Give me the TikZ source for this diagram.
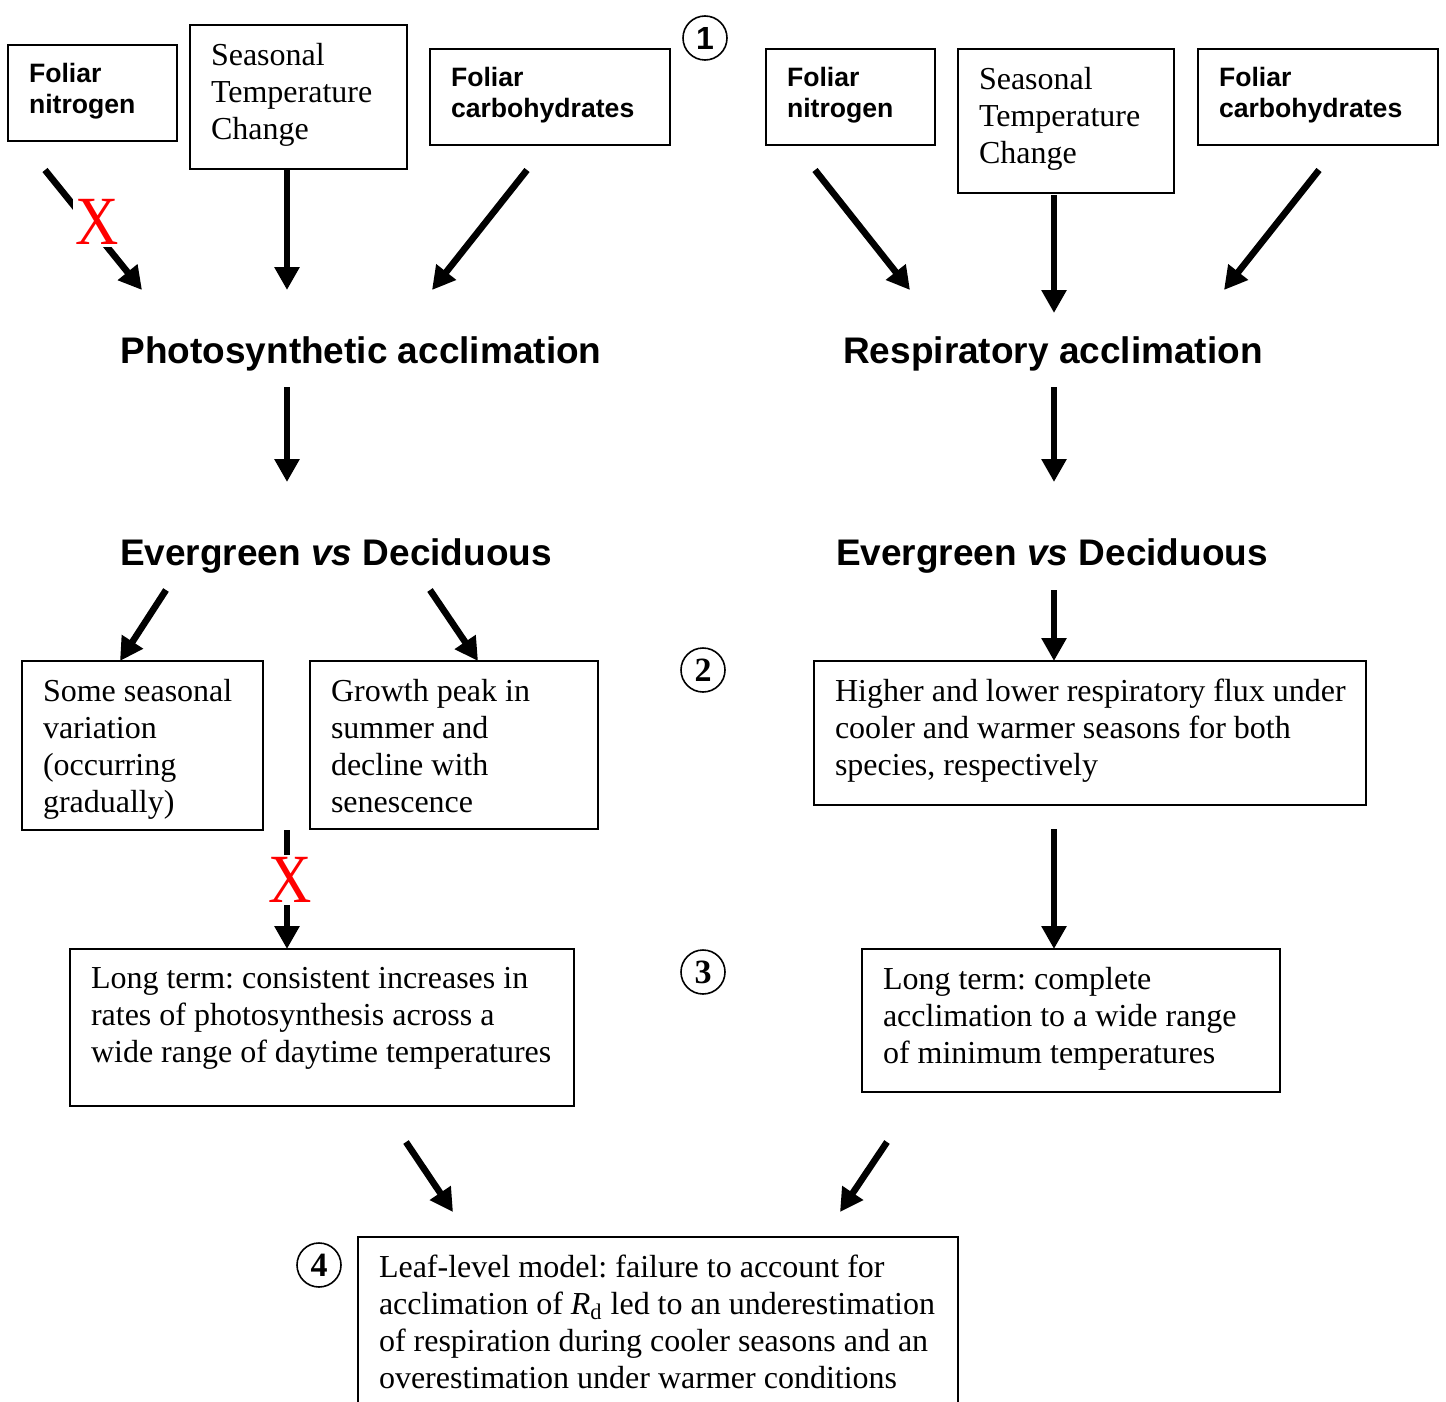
\documentclass[tikz,border=0pt]{standalone}
\usepackage{fontspec}
\usepackage{graphicx}
\setmainfont{Liberation Serif}
\setsansfont{Liberation Sans}
\usetikzlibrary{arrows.meta}
\frenchspacing
\newdimen\upx \upx=0.5pt % one pixel of the picture
\newcommand{\boxtext}[3]{\parbox[c][\dimexpr#2\upx-36\upx\relax][t]{\dimexpr#1\upx-42\upx\relax}{\rightskip=0pt minus 20pt #3}}
\begin{document}
\begin{tikzpicture}[x=0.5pt,y=-0.5pt] % coordinates in pixels, y downwards
\tikzstyle{box} = [draw, line width=1pt, anchor=north west, inner xsep=10.5pt, inner ysep=9pt, outer sep=0pt, font=\fontsize{16}{18.5}\selectfont] % serif text box
\tikzstyle{sansbox} = [box, font=\sffamily\bfseries\fontsize{13.3}{15.5}\selectfont] % bold sans box
\tikzstyle{heading} = [anchor=base, inner sep=0pt, font=\sffamily\bfseries\fontsize{18.5}{22}\selectfont]
\tikzstyle{num} = [circle, draw, line width=0.8pt, minimum size=22pt, inner sep=0pt, font=\bfseries\fontsize{17}{17}\selectfont] % step numbers
\tikzstyle{cross} = [text=red, fill=white, inner sep=1pt, font=\fontsize{30}{30}\selectfont]
\tikzstyle{arrow} = [line width=3.3pt, -{Triangle[length=11.5pt, width=12pt]}]
\useasboundingbox (0,0) rectangle (1446,1402);

% top row
\node[sansbox] (fn1) at (8,45) {\boxtext{169}{96}{Foliar\\nitrogen}};
\node[box] (stc1) at (190,25) {\boxtext{217}{144}{Seasonal\\Temperature\\Change}};
\node[sansbox] (fc1) at (430,49) {\boxtext{240}{96}{Foliar\\carbohydrates}};
\node[sansbox] (fn2) at (766,49) {\boxtext{169}{96}{Foliar\\nitrogen}};
\node[box] (stc2) at (958,49) {\boxtext{216}{144}{Seasonal\\Temperature\\Change}};
\node[sansbox] (fc2) at (1198,49) {\boxtext{240}{96}{Foliar\\carbohydrates}};

% headings
\node[heading] (photo) at (361,363) {Photosynthetic acclimation};
\node[heading] (resp) at (1053,363) {Respiratory acclimation};
\node[heading] (evg1) at (336,565) {Evergreen \textit{vs} Deciduous};
\node[heading] (evg2) at (1052,565) {Evergreen \textit{vs} Deciduous};

% second and third rows
\node[box] (some) at (22,661) {\boxtext{241}{169}{Some seasonal\\variation\\(occurring\\gradually)}};
\node[box] (growth) at (310,661) {\boxtext{288}{168}{Growth peak in\\summer and\\decline with\\senescence}};
\node[box] (higher) at (814,661) {\boxtext{552}{144}{Higher and lower respiratory flux under\\cooler and warmer seasons for both\\species, respectively}};
\node[box] (long1) at (70,949) {\boxtext{504}{157}{Long term: consistent increases in\\rates of photosynthesis across a\\wide range of daytime temperatures}};
\node[box] (long2) at (862,949) {\boxtext{418}{143}{Long term: complete\\acclimation to a wide range\\of minimum temperatures}};
\node[box] (leaf) at (358,1237) {\boxtext{600}{200}{Leaf-level model: failure to account for\\acclimation of \textit{R}\textsubscript{d} led to an underestimation\\of respiration during cooler seasons and an\\overestimation under warmer conditions}};

% numbers
\node[num, font=\sffamily\bfseries\fontsize{16}{16}\selectfont] (c1) at (705,38) {1};
\node[num] (c2) at (703,670) {2};
\node[num] (c3) at (703,972) {3};
\node[num] (c4) at (319,1265) {4};

% arrows
\draw[arrow] ([shift={(37,29)}]fn1.south west) -- ([shift={(-219,-73)}]photo.base);
\draw[arrow] ([shift={(97,1)}]stc1.south west) -- ([shift={(-74,-73)}]photo.base);
\draw[arrow] ([shift={(97,25)}]fc1.south west) -- ([shift={(71,-73)}]photo.base);
\draw[arrow] ([shift={(49,25)}]fn2.south west) -- ([shift={(-143,-73)}]resp.base);
\draw[arrow] ([shift={(96,2)}]stc2.south west) -- ([shift={(1,-50)}]resp.base);
\draw[arrow] ([shift={(121,25)}]fc2.south west) -- ([shift={(171,-73)}]resp.base);
\draw[arrow] ([shift={(-74,24)}]photo.base) -- ([shift={(-49,-83)}]evg1.base);
\draw[arrow] ([shift={(1,24)}]resp.base) -- ([shift={(2,-83)}]evg2.base);
\draw[arrow] ([shift={(-170,25)}]evg1.base) -- ([shift={(98,0)}]some.north west);
\draw[arrow] ([shift={(94,25)}]evg1.base) -- ([shift={(168,0)}]growth.north west);
\draw[arrow] ([shift={(2,25)}]evg2.base) -- ([shift={(240,0)}]higher.north west);
\draw[arrow] ([shift={(24,0)}]some.south east) -- ([shift={(217,0)}]long1.north west);
\draw[arrow] ([shift={(240,24)}]higher.south west) -- ([shift={(192,0)}]long2.north west);
\draw[arrow] ([shift={(336,36)}]long1.south west) -- ([shift={(95,-25)}]leaf.north west);
\draw[arrow] ([shift={(25,50)}]long2.south west) -- ([shift={(482,-25)}]leaf.north west);

% crossed out links
\node[cross] (x1) at (97,222) {\scalebox{1}[1.15]{X}};
\node[cross] (x2) at (290,880) {\scalebox{1}[1.15]{X}};
\end{tikzpicture}
\end{document}
